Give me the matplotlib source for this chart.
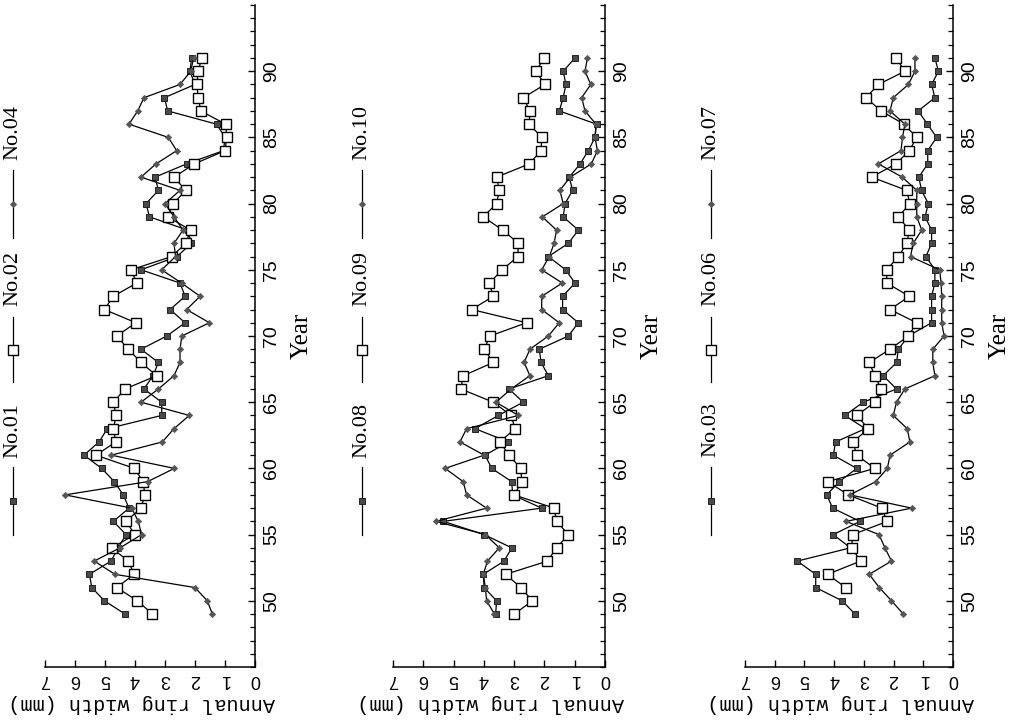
import matplotlib
matplotlib.use('Agg')
import matplotlib.pyplot as plt
from matplotlib.lines import Line2D
import numpy as np

# years 1949-1991 (two digits), No.06 starts in 1951
years = np.arange(49, 92)
years_06 = np.arange(51, 92)

# panel 1
no01 = [4.33, 5.02, 5.44, 5.52, 4.8, 4.56, 4.3, 4.72, 4.2, 4.39,
        4.69, 5.11, 5.7, 5.2, 4.92, 3.11, 3.11, 3.7, 3.4, 3.22,
        3.8, 2.94, 2.33, 2.83, 2.33, 2.5, 3.8, 2.6, 2.12, 2.25,
        3.52, 3.63, 3.22, 3.33, 2.28, 1.05, 1.0, 1.28, 2.91, 3.02,
        2.0, 2.17, 2.11]
no02 = [3.42, 3.92, 4.61, 4.03, 4.22, 4.78, 4.0, 4.3, 3.8, 3.67,
        3.73, 4.02, 5.3, 4.64, 4.72, 4.63, 4.72, 4.33, 3.28, 3.8,
        4.22, 4.61, 3.97, 5.02, 4.72, 3.94, 4.13, 2.78, 2.3, 2.15,
        2.91, 2.72, 2.31, 2.7, 2.02, 1.0, 0.94, 0.98, 1.81, 1.89,
        1.94, 1.89, 1.78]
no04 = [1.42, 1.59, 2.0, 4.67, 5.36, 4.5, 3.78, 3.89, 4.11, 6.33,
        3.58, 2.69, 4.79, 3.09, 2.7, 2.19, 3.8, 3.22, 2.7, 2.5,
        2.5, 2.44, 1.52, 2.28, 1.83, 2.45, 3.11, 2.65, 2.7, 2.4,
        2.7, 3.0, 2.5, 3.8, 3.3, 2.61, 2.89, 4.2, 3.91, 3.7,
        2.5, 2.14, 2.05]

# panel 2
no08 = [3.61, 3.58, 3.99, 4.02, 3.33, 3.08, 3.99, 5.34, 2.09, 3.05,
        3.08, 3.74, 3.96, 3.19, 4.29, 3.52, 2.7, 3.17, 1.87, 2.11,
        2.17, 1.21, 0.88, 1.4, 1.4, 0.99, 1.3, 1.87, 1.21, 0.88,
        1.38, 1.32, 1.07, 1.18, 0.82, 0.55, 0.33, 0.28, 1.51, 1.38,
        1.29, 1.38, 0.99]
no09 = [2.99, 2.4, 2.78, 3.28, 1.9, 1.6, 1.21, 1.6, 1.68, 3.0,
        2.75, 2.78, 3.17, 3.47, 2.97, 3.1, 3.69, 4.76, 4.68, 3.69,
        3.99, 3.8, 2.59, 4.4, 3.69, 3.82, 3.39, 2.88, 2.86, 3.38,
        4.02, 3.58, 3.49, 3.58, 2.5, 2.11, 2.09, 2.5, 2.48, 2.7,
        1.98, 2.29, 2.0]
no10 = [3.65, 3.91, 3.95, 4.02, 3.88, 3.49, 3.95, 5.58, 3.91, 4.57,
        4.68, 5.28, 3.99, 4.79, 4.57, 2.86, 3.6, 3.1, 2.48, 2.67,
        2.48, 1.87, 1.51, 2.09, 2.09, 1.41, 2.09, 1.84, 1.68, 1.6,
        2.07, 1.38, 1.49, 1.15, 0.45, 0.25, 0.33, 0.3, 0.66, 0.77,
        0.47, 0.66, 0.58]

# panel 3
no03 = [3.3, 3.73, 4.62, 4.62, 5.24, 3.45, 4.03, 3.13, 4.05, 4.25,
        3.83, 3.24, 4.03, 3.95, 2.95, 3.64, 3.02, 1.9, 2.35, 1.9,
        1.84, 1.5, 0.72, 0.72, 0.72, 0.61, 0.61, 0.91, 0.72, 0.72,
        0.94, 0.83, 1.06, 1.15, 0.85, 0.85, 0.55, 0.86, 1.17, 0.61,
        0.72, 0.49, 0.61]
no06 = [3.61, 4.22, 3.11, 3.41, 3.38, 2.21, 2.4, 3.52, 4.22, 2.63,
        3.24, 3.36, 2.85, 3.24, 2.63, 2.42, 2.63, 2.82, 2.12, 1.5,
        1.22, 2.12, 1.47, 2.23, 2.23, 1.84, 1.55, 1.47, 1.84, 1.45,
        1.56, 2.74, 1.92, 1.47, 1.22, 1.65, 2.42, 2.93, 2.51, 1.62,
        1.92]
no07 = [1.67, 2.07, 2.48, 2.82, 2.07, 2.29, 2.49, 3.6, 1.39, 3.47,
        2.6, 2.21, 2.12, 1.45, 1.54, 2.01, 1.9, 1.62, 0.61, 0.68,
        0.68, 0.3, 0.38, 0.38, 0.38, 0.4, 0.45, 1.43, 1.34, 1.05,
        1.22, 1.22, 1.22, 1.71, 2.51, 1.75, 1.7, 1.62, 2.12, 2.01,
        1.5, 1.28, 1.28]

W, H = 1015, 725
SERIF = 'Liberation Serif'
SANS = ['Liberation Sans Narrow', 'Liberation Sans']

sq_filled = dict(marker='s', markersize=4.5, markerfacecolor='#4a4a4a',
                 markeredgecolor='#222222', markeredgewidth=0.7)
sq_open = dict(marker='s', markersize=6.5, markerfacecolor='white',
               markeredgecolor='black', markeredgewidth=1.0)
diamond = dict(marker='D', markersize=3.2, markerfacecolor='#555555',
               markeredgecolor='#555555', markeredgewidth=0.5)

# (axes left px, axes right px, legend x px, series)
panels = [
    (45, 255, 13, [('No.01', years, no01, sq_filled),
                   ('No.02', years, no02, sq_open),
                   ('No.04', years, no04, diamond)]),
    (393, 605, 362, [('No.08', years, no08, sq_filled),
                     ('No.09', years, no09, sq_open),
                     ('No.10', years, no10, diamond)]),
    (745, 953, 711, [('No.03', years, no03, sq_filled),
                     ('No.06', years_06, no06, sq_open),
                     ('No.07', years, no07, diamond)]),
]

# legend slots (line bottom px, line top px, text centre px), bottom to top
slots = [(535, 467, 430), (382, 317, 278), (238, 170, 133)]

fig = plt.figure(figsize=(W / 100, H / 100), dpi=100)
top_px, bot_px = 5, 667

for left, right, lx, series in panels:
    ax = fig.add_axes([left / W, 1 - bot_px / H, (right - left) / W, (bot_px - top_px) / H])
    for name, yr, vals, st in series:
        ax.plot(vals, yr, color='black', lw=0.9, **st)
    ax.set_xlim(7, 0)
    ax.set_ylim(45, 95)
    ax.spines['top'].set_visible(False)
    ax.spines['left'].set_visible(False)
    ax.spines['bottom'].set_linewidth(1.1)
    ax.spines['right'].set_linewidth(1.1)
    ax.yaxis.tick_right()
    ax.set_yticks(range(50, 95, 5))
    ax.set_yticks(range(45, 96), minor=True)
    ax.set_xticks(range(0, 8))
    ax.tick_params(axis='y', which='major', direction='in', length=5, width=1,
                   labelsize=14, pad=6)
    ax.tick_params(axis='y', which='minor', direction='in', length=3.5, width=0.9)
    ax.tick_params(axis='x', direction='in', length=5, width=1, labelsize=13, pad=3)
    for lab in ax.get_yticklabels():
        lab.set_rotation(90)
        lab.set_va('center')
        lab.set_family(SANS)
    for lab in ax.get_xticklabels():
        lab.set_rotation(180)
        lab.set_family(SANS)
    ax.yaxis.set_label_position('right')
    ax.set_ylabel('Year', family=SERIF, fontsize=18, rotation=90, ha='center', va='center')
    ax.yaxis.set_label_coords(1 + 47 / (right - left), 0.5)
    ax.set_xlabel('Annual ring width (mm)', family='Liberation Mono', fontsize=14.5,
                  rotation=180, ha='center', va='center')
    ax.xaxis.set_label_coords(0.5 - 8 / (right - left), -36 / (bot_px - top_px))

    # vertical legend on the left side of each panel
    for (name, yr, vals, st), (yb, yt, ytxt) in zip(series, slots):
        x = lx / W
        fig.add_artist(Line2D([x, x], [1 - yb / H, 1 - yt / H], transform=fig.transFigure,
                              color='black', lw=0.9))
        fig.add_artist(Line2D([x], [1 - (yb + yt) / 2 / H], transform=fig.transFigure,
                              linestyle='none', **st))
        fig.text(x, 1 - ytxt / H, name, rotation=90, ha='center', va='center',
                 family=SERIF, fontsize=16)

fig.savefig('out.png', dpi=100)
